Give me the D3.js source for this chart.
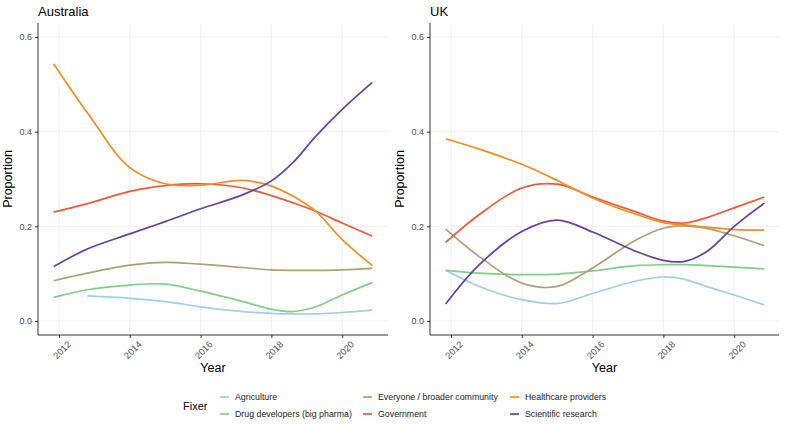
<!DOCTYPE html>
<html>
<head>
<meta charset="utf-8">
<script src="https://cdn.jsdelivr.net/npm/d3@7"></script>
<style>
  body { margin: 0; background: #fff; }
  text { font-family: "Liberation Sans", Arial, sans-serif; }
</style>
</head>
<body>
<svg id="main_svg" width="786" height="425"></svg>
<script>
// sample years along the smoothed curves
const years = [2011.85, 2012.8, 2014, 2015, 2016, 2017.2, 2018, 2018.6, 2019.25, 2020, 2020.85];

const fixers = ["Agriculture", "Drug developers (big pharma)", "Everyone / broader community",
                "Government", "Healthcare providers", "Scientific research"];
const colors = ["#9ecfe6", "#7fcf87", "#b09f72", "#f1593a", "#f58c1e", "#6b3fa0"];

// Australia
const auAgriculture = [null, 0.053, 0.048, 0.041, 0.030, 0.020, 0.016, 0.015, 0.015, 0.018, 0.023];
const auDrug        = [0.050, 0.066, 0.076, 0.078, 0.063, 0.041, 0.025, 0.020, 0.030, 0.055, 0.081];
const auEveryone    = [0.085, 0.101, 0.118, 0.124, 0.120, 0.113, 0.108, 0.107, 0.107, 0.108, 0.111];
const auGovernment  = [0.230, 0.248, 0.274, 0.286, 0.290, 0.281, 0.265, 0.250, 0.232, 0.207, 0.179];
const auHealthcare  = [0.543, 0.440, 0.324, 0.290, 0.287, 0.297, 0.285, 0.264, 0.232, 0.172, 0.117];
const auScience     = [0.115, 0.152, 0.184, 0.210, 0.237, 0.267, 0.296, 0.334, 0.390, 0.447, 0.504];

// UK
const ukAgriculture = [0.107, 0.073, 0.045, 0.037, 0.058, 0.084, 0.093, 0.088, 0.072, 0.055, 0.034];
const ukDrug        = [0.107, 0.101, 0.098, 0.099, 0.106, 0.117, 0.119, 0.119, 0.117, 0.114, 0.110];
const ukEveryone    = [0.194, 0.136, 0.080, 0.073, 0.112, 0.170, 0.196, 0.201, 0.195, 0.180, 0.159];
const ukGovernment  = [0.166, 0.225, 0.281, 0.289, 0.262, 0.231, 0.211, 0.207, 0.219, 0.239, 0.262];
const ukHealthcare  = [0.385, 0.363, 0.331, 0.297, 0.260, 0.226, 0.208, 0.203, 0.198, 0.193, 0.192];
const ukScience     = [0.036, 0.119, 0.189, 0.213, 0.188, 0.148, 0.128, 0.126, 0.148, 0.200, 0.249];

const xTicks = [2012, 2014, 2016, 2018, 2020];
const yTicks = [0.0, 0.2, 0.4, 0.6];

const panels = [
  { title: "Australia", left: 38, right: 388,
    series: [auAgriculture, auDrug, auEveryone, auGovernment, auHealthcare, auScience] },
  { title: "UK", left: 430, right: 779,
    series: [ukAgriculture, ukDrug, ukEveryone, ukGovernment, ukHealthcare, ukScience] }
];

const svg = d3.select("#main_svg");
const panelTop = 23, panelBottom = 335;

panels.forEach(p => {
  // keep 2012 ~21px right of the axis line, 35.4px per year
  const x = d3.scaleLinear()
    .domain([2012 - 21 / 35.4, 2012 + (p.right - p.left - 21) / 35.4])
    .range([p.left, p.right]);
  const y = d3.scaleLinear().domain([0, 0.6]).range([321, 37]);

  const g = svg.append("g");

  // grid
  g.selectAll(".gx").data(xTicks).enter().append("line")
    .attr("x1", d => x(d)).attr("x2", d => x(d))
    .attr("y1", panelTop).attr("y2", panelBottom)
    .attr("stroke", "#ebebeb").attr("stroke-width", 0.8);
  g.selectAll(".gy").data(yTicks).enter().append("line")
    .attr("x1", p.left).attr("x2", p.right)
    .attr("y1", d => y(d)).attr("y2", d => y(d))
    .attr("stroke", "#ebebeb").attr("stroke-width", 0.8);

  // lines
  const line = d3.line()
    .x(d => x(d[0])).y(d => y(d[1]))
    .curve(d3.curveCatmullRom.alpha(0.5));

  p.series.forEach((vals, i) => {
    const pts = years.map((yr, j) => [yr, vals[j]]).filter(d => d[1] != null);
    g.append("path")
      .attr("d", line(pts))
      .attr("fill", "none")
      .attr("stroke", colors[i])
      .attr("stroke-width", 1.7);
  });

  // axes
  const xAxis = d3.axisBottom(x).tickValues(xTicks).tickFormat(d3.format("d")).tickSize(3).tickSizeOuter(0);
  const gx = g.append("g").attr("transform", `translate(0,${panelBottom})`).call(xAxis);
  gx.select(".domain").attr("d", `M${p.left},0H${p.right}`).attr("stroke", "#333").attr("stroke-width", 1);
  gx.selectAll(".tick line").attr("stroke", "#333");
  gx.selectAll(".tick text")
    .attr("fill", "#4d4d4d").style("font-size", "9.2px")
    .attr("text-anchor", "end")
    .attr("transform", "translate(12,10) rotate(-45)")
    .attr("dy", 0).attr("y", 0).attr("x", 0);

  const yAxis = d3.axisLeft(y).tickValues(yTicks).tickFormat(d3.format(".1f")).tickSize(3).tickSizeOuter(0);
  const gy = g.append("g").attr("transform", `translate(${p.left},0)`).call(yAxis);
  gy.select(".domain").attr("d", `M0,${panelTop}V${panelBottom}`).attr("stroke", "#333").attr("stroke-width", 1);
  gy.selectAll(".tick line").attr("stroke", "#333");
  gy.selectAll(".tick text").attr("fill", "#4d4d4d").style("font-size", "9px");

  // titles
  g.append("text").attr("x", p.left).attr("y", 16)
    .style("font-size", "13px").attr("fill", "#000").text(p.title);
  g.append("text").attr("x", (p.left + p.right) / 2).attr("y", 372)
    .attr("text-anchor", "middle").style("font-size", "12.5px").text("Year");
  g.append("text")
    .attr("transform", `translate(${p.left - 26},${(panelTop + panelBottom) / 2}) rotate(-90)`)
    .attr("text-anchor", "middle").style("font-size", "12.5px").text("Proportion");
});

// legend
const legend = svg.append("g");
legend.append("text").attr("x", 183).attr("y", 410).style("font-size", "11px").text("Fixer");
const colX = [220, 363, 510];
const rowY = [397, 414];
fixers.forEach((f, i) => {
  const cx = colX[Math.floor(i / 2)], cy = rowY[i % 2];
  legend.append("line").attr("x1", cx).attr("x2", cx + 9).attr("y1", cy).attr("y2", cy)
    .attr("stroke", colors[i]).attr("stroke-width", 1.7);
  legend.append("text").attr("x", cx + 15).attr("y", cy + 3.2)
    .style("font-size", "8.8px").attr("fill", "#222").text(f);
});
</script>
</body>
</html>
